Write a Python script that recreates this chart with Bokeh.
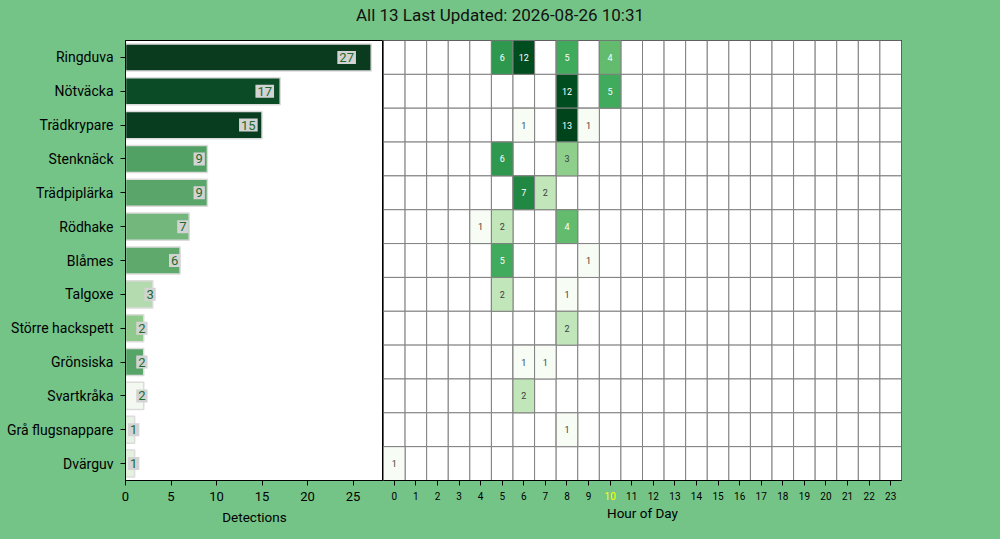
import math
from bokeh.plotting import figure
from bokeh.models import (Range1d, FactorRange, SingleIntervalTicker,
                          ColumnDataSource, LogColorMapper, Div)
from bokeh.layouts import column, row
from bokeh.palettes import Greens256
from bokeh.core.properties import value
from bokeh.embed import file_html
from bokeh.resources import INLINE

# ---------------- data ----------------
title_text = "All 13 Last Updated: 2026-08-26 10:31"
current_hour = 10

species = ["Ringduva", "Nötväcka", "Trädkrypare", "Stenknäck", "Trädpiplärka", "Rödhake",
           "Blåmes", "Talgoxe", "Större hackspett", "Grönsiska", "Svartkråka",
           "Grå flugsnappare", "Dvärguv"]
detections = [27, 17, 15, 9, 9, 7, 6, 3, 2, 2, 2, 1, 1]
bar_colors = ["#0a3b1f", "#0b4c27", "#093d20", "#51a164", "#5aa56a", "#73b77c", "#5fa96d",
              "#b3dbaf", "#8fc98b", "#56a467", "#f3f9f1", "#e7f3e4", "#e3f1df"]

hours = [str(h) for h in range(24)]

cell_species = ["Ringduva", "Ringduva", "Ringduva", "Ringduva",
                "Nötväcka", "Nötväcka",
                "Trädkrypare", "Trädkrypare", "Trädkrypare",
                "Stenknäck", "Stenknäck",
                "Trädpiplärka", "Trädpiplärka",
                "Rödhake", "Rödhake", "Rödhake",
                "Blåmes", "Blåmes",
                "Talgoxe", "Talgoxe",
                "Större hackspett",
                "Grönsiska", "Grönsiska",
                "Svartkråka",
                "Grå flugsnappare",
                "Dvärguv"]
cell_hours = [5, 6, 8, 10,
              8, 10,
              6, 8, 9,
              5, 8,
              6, 7,
              4, 5, 8,
              5, 9,
              5, 8,
              8,
              6, 7,
              6,
              8,
              0]
cell_counts = [6, 12, 5, 4,
               12, 5,
               1, 13, 1,
               6, 3,
               7, 2,
               1, 2, 4,
               5, 1,
               2, 1,
               2,
               1, 1,
               2,
               1,
               1]

# ---------------- style ----------------
BG = "#75c487"
FONT = "Roboto"
factors = species[::-1]


def style_axis(ax, label_size, standoff, label_standoff):
    ax.axis_line_color = "black"
    ax.major_tick_line_color = "black"
    ax.major_tick_in = 0
    ax.major_tick_out = 5
    ax.minor_tick_line_color = None
    ax.major_label_text_font = FONT
    ax.major_label_text_font_size = label_size
    ax.major_label_text_color = "black"
    ax.major_label_standoff = standoff
    ax.axis_label_text_font = FONT
    ax.axis_label_text_font_size = "13.5px"
    ax.axis_label_text_font_style = "normal"
    ax.axis_label_text_color = "black"
    ax.axis_label_standoff = label_standoff


# ---------------- left: bar chart ----------------
src_bar = ColumnDataSource(dict(
    species=species,
    count=detections,
    color=bar_colors,
    label=[str(v) for v in detections],
    lx=[v * 0.9 for v in detections],
))

p1 = figure(width=383, height=500,
            y_range=FactorRange(factors=factors),
            x_range=Range1d(0, max(detections) * 1.05),
            output_backend="svg", toolbar_location=None,
            min_border_left=125, min_border_right=0, min_border_top=1, min_border_bottom=59,
            background_fill_color="white", border_fill_color=BG,
            outline_line_color="black", outline_line_width=1)
p1.hbar(y="species", right="count", height=0.8, fill_color="color",
        line_color="#dcdcdc", line_width=1.5, source=src_bar)
p1.text(x="lx", y="species", text="label", source=src_bar,
        text_align="center", text_baseline="middle",
        text_font_size="13px", text_font=value(FONT), text_color="#1e6b2d",
        background_fill_color="#d3d3d3", padding=2)
p1.grid.visible = False
p1.xaxis.ticker = SingleIntervalTicker(interval=5, num_minor_ticks=0)
p1.xaxis.axis_label = "Detections"
style_axis(p1.xaxis[0], "13px", 6, 5)
style_axis(p1.yaxis[0], "14px", 7, 5)

# ---------------- right: heatmap ----------------
grid_x = [h for s in species for h in hours]
grid_y = [s for s in species for h in hours]

max_count = max(cell_counts)
mapper = LogColorMapper(palette=list(Greens256[::-1]), low=1, high=max_count)
src_cells = ColumnDataSource(dict(
    hour=[str(h) for h in cell_hours],
    species=cell_species,
    count=cell_counts,
    label=[str(c) for c in cell_counts],
    tcolor=["white" if math.log(c) / math.log(max_count) > 0.5 else "#3d3d3d" for c in cell_counts],
))

hour_range = FactorRange(factors=hours)

p2 = figure(width=617, height=447,
            x_range=hour_range,
            y_range=FactorRange(factors=factors),
            y_axis_location=None,
            output_backend="svg", toolbar_location=None,
            min_border_left=0, min_border_right=99, min_border_top=1, min_border_bottom=6,
            background_fill_color="white", border_fill_color=BG,
            outline_line_color="black", outline_line_width=1)
p2.rect(x=grid_x, y=grid_y, width=1, height=1, fill_color="white",
        line_color="#808080", line_width=1)
p2.rect(x="hour", y="species", width=1, height=1, source=src_cells,
        fill_color={"field": "count", "transform": mapper},
        line_color="#808080", line_width=1)
p2.text(x="hour", y="species", text="label", source=src_cells,
        text_color="tcolor", text_align="center", text_baseline="middle",
        text_font_size="9px", text_font=value(FONT))
p2.grid.visible = False
ax = p2.xaxis[0]
style_axis(ax, "0px", 0, 0)
ax.major_label_text_color = None

# hour tick labels strip (current hour highlighted in yellow)
src_hours = ColumnDataSource(dict(
    hour=hours,
    y=[0.5] * len(hours),
    color=["yellow" if h == str(current_hour) else "black" for h in hours],
))
p3 = figure(width=617, height=53,
            x_range=hour_range, y_range=Range1d(0, 1),
            y_axis_location=None,
            output_backend="svg", toolbar_location=None,
            min_border_left=0, min_border_right=99, min_border_top=0, min_border_bottom=35,
            background_fill_color=BG, border_fill_color=BG, outline_line_color=None)
p3.text(x="hour", y="y", text="hour", source=src_hours, text_color="color",
        text_align="center", text_baseline="middle",
        text_font_size="10px", text_font=value(FONT))
p3.grid.visible = False
ax3 = p3.xaxis[0]
style_axis(ax3, "0px", 0, 0)
ax3.axis_label = "Hour of Day"
ax3.axis_line_color = None
ax3.major_tick_line_color = None
ax3.major_tick_out = 0
ax3.major_label_text_color = None

title = Div(text=title_text, width=1000, height=39,
            styles={"text-align": "center", "font-family": FONT, "font-size": "17px",
                    "color": "#111111", "line-height": "30px", "margin": "0px",
                    "padding": "0px"})

layout = column(title, row(p1, column(p2, p3)))
layout.styles = {"background-color": BG}

html = file_html(layout, INLINE)
html = html.replace("</head>",
                    "<style>html, body { background-color: %s; margin: 0 !important; "
                    "padding: 0; overflow: hidden; }</style></head>" % BG, 1)
open("out.html", "w").write(html)
